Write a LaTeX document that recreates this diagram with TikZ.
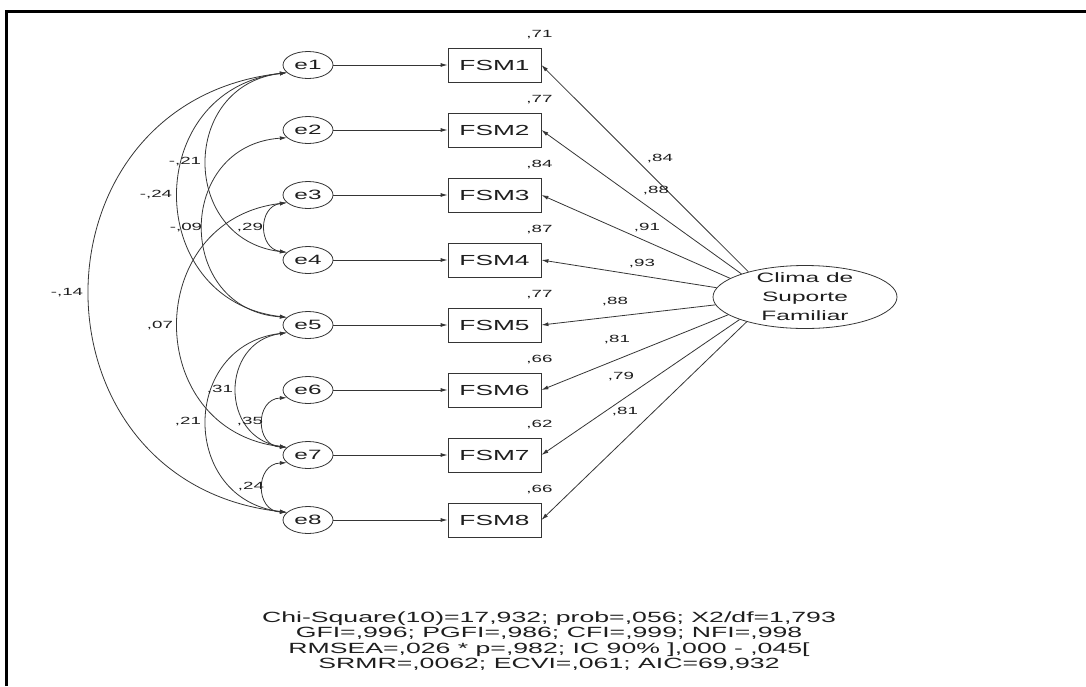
\documentclass[tikz,border=0pt]{standalone}
\usepackage{fontspec}
\usepackage{tikz}
\usetikzlibrary{shapes.geometric,arrows.meta,positioning}
\newfontfamily\amosFont{Liberation Sans}[FakeStretch=1.8]
\definecolor{lineGray}{HTML}{353535}
\definecolor{textGray}{HTML}{1E1E1E}

\begin{document}
\begin{tikzpicture}[
    x=1pt, y=-1pt,
    node distance=65pt, on grid,
    errNode/.style={ellipse, draw=lineGray, line width=0.8pt, minimum width=50pt, minimum height=27pt, inner sep=0pt, text=textGray, font=\amosFont\fontsize{13.5}{15}\selectfont},
    obsNode/.style={rectangle, draw=lineGray, line width=0.8pt, minimum width=93pt, minimum height=34pt, inner sep=0pt, text=textGray, font=\amosFont\fontsize{14.6}{16}\selectfont},
    latNode/.style={ellipse, draw=lineGray, line width=0.8pt, minimum width=184pt, minimum height=63pt, inner xsep=0pt, inner ysep=-8pt, align=center, text=textGray, font=\amosFont\fontsize{13.6}{19}\selectfont},
    lblNode/.style={inner sep=0pt, text=textGray, font=\amosFont\fontsize{10.4}{12}\selectfont},
    arrow/.style={-{Latex[length=7pt,width=4pt]}, line width=0.8pt, lineGray},
    covArrow/.style={{Latex[length=7pt,width=4pt]}-{Latex[length=7pt,width=4pt]}, line width=0.8pt, lineGray}
]
\useasboundingbox (0,0) rectangle (1086,686);

% frame
\draw[line width=3pt] (6.5,686) -- (6.5,11.5) -- (1086,11.5);

% error terms
\node[errNode] (e1) at (308,65) {e1};
\node[errNode, below=of e1] (e2) {e2};
\node[errNode, below=of e2] (e3) {e3};
\node[errNode, below=of e3] (e4) {e4};
\node[errNode, below=of e4] (e5) {e5};
\node[errNode, below=of e5] (e6) {e6};
\node[errNode, below=of e6] (e7) {e7};
\node[errNode, below=of e7] (e8) {e8};

% items
\node[obsNode, right=186.5pt of e1] (f1) {FSM1};
\node[obsNode, right=186.5pt of e2] (f2) {FSM2};
\node[obsNode, right=186.5pt of e3] (f3) {FSM3};
\node[obsNode, right=186.5pt of e4] (f4) {FSM4};
\node[obsNode, right=186.5pt of e5] (f5) {FSM5};
\node[obsNode, right=186.5pt of e6] (f6) {FSM6};
\node[obsNode, right=186.5pt of e7] (f7) {FSM7};
\node[obsNode, right=186.5pt of e8] (f8) {FSM8};

% factor
\node[latNode] (lat) at (805,297) {Clima de\\Suporte\\Familiar};

\draw[arrow] (e1) -- (f1);
\draw[arrow] (e2) -- (f2);
\draw[arrow] (e3) -- (f3);
\draw[arrow] (e4) -- (f4);
\draw[arrow] (e5) -- (f5);
\draw[arrow] (e6) -- (f6);
\draw[arrow] (e7) -- (f7);
\draw[arrow] (e8) -- (f8);

\draw[arrow] (lat.156) -- (f1.east);
\draw[arrow] (lat.160) -- (f2.east);
\draw[arrow] (lat.166) -- (f3.east);
\draw[arrow] (lat.174) -- (f4.east);
\draw[arrow] (lat.185) -- (f5.east);
\draw[arrow] (lat.193) -- (f6.east);
\draw[arrow] (lat.199) -- (f7.east);
\draw[arrow] (lat.203) -- (f8.east);

% loadings
\node[lblNode] (l1) at (660,159) {,84};
\node[lblNode] (l2) at (656,191) {,88};
\node[lblNode] (l3) at (647,228) {,91};
\node[lblNode] (l4) at (642,264) {,93};
\node[lblNode] (l5) at (615,302) {,88};
\node[lblNode] (l6) at (617,340) {,81};
\node[lblNode] (l7) at (621,377) {,79};
\node[lblNode] (l8) at (625,412) {,81};

% squared correlations
\node[lblNode, above=9pt of f1.north east, xshift=-2pt] (r1) {,71};
\node[lblNode, above=9pt of f2.north east, xshift=-2pt] (r2) {,77};
\node[lblNode, above=9pt of f3.north east, xshift=-2pt] (r3) {,84};
\node[lblNode, above=9pt of f4.north east, xshift=-2pt] (r4) {,87};
\node[lblNode, above=9pt of f5.north east, xshift=-2pt] (r5) {,77};
\node[lblNode, above=9pt of f6.north east, xshift=-2pt] (r6) {,66};
\node[lblNode, above=9pt of f7.north east, xshift=-2pt] (r7) {,62};
\node[lblNode, above=9pt of f8.north east, xshift=-2pt] (r8) {,66};

% error covariances
\draw[covArrow] (e1.200) .. controls +(-263,29) and +(-263,-29) .. (e8.160);
\draw[covArrow] (e1.200) .. controls +(-145,17) and +(-145,-17) .. (e5.160);
\draw[covArrow] (e1.200) .. controls +(-107,12.6) and +(-107,-12.6) .. (e4.160);
\draw[covArrow] (e2.200) .. controls +(-112,7.7) and +(-112,-7.7) .. (e5.160);
\draw[covArrow] (e3.200) .. controls +(-29,3.7) and +(-29,-3.7) .. (e4.160);
\draw[covArrow] (e3.200) .. controls +(-145,17) and +(-145,-17) .. (e7.160);
\draw[covArrow] (e5.200) .. controls +(-67,9.4) and +(-67,-9.4) .. (e7.160);
\draw[covArrow] (e5.200) .. controls +(-107,12.6) and +(-107,-12.6) .. (e8.160);
\draw[covArrow] (e6.200) .. controls +(-32,1.3) and +(-32,-1.3) .. (e7.160);
\draw[covArrow] (e7.200) .. controls +(-32,1.3) and +(-32,-1.3) .. (e8.160);

\node[lblNode] (c14) at (185,162) {-,21};
\node[lblNode] (c15) at (156,195) {-,24};
\node[lblNode] (c25) at (186,228) {-,09};
\node[lblNode] (c34) at (250,228) {,29};
\node[lblNode] (c18) at (67,293) {-,14};
\node[lblNode] (c37) at (160,326) {,07};
\node[lblNode] (c57) at (220,390) {,31};
\node[lblNode] (c58) at (188,422) {,21};
\node[lblNode] (c67) at (250,422) {,35};
\node[lblNode] (c78) at (251,487) {,24};

% fit indices
\node[align=center, inner sep=0pt, text=textGray, font=\amosFont\fontsize{14.8}{15.5}\selectfont] (fit) at (549,641) {Chi-Square(10)=17,932; prob=,056; X2/df=1,793\\GFI=,996; PGFI=,986; CFI=,999; NFI=,998\\RMSEA=,026 * p=,982; IC 90\% ],000 - ,045[\\SRMR=,0062; ECVI=,061; AIC=69,932};

\end{tikzpicture}
\end{document}
